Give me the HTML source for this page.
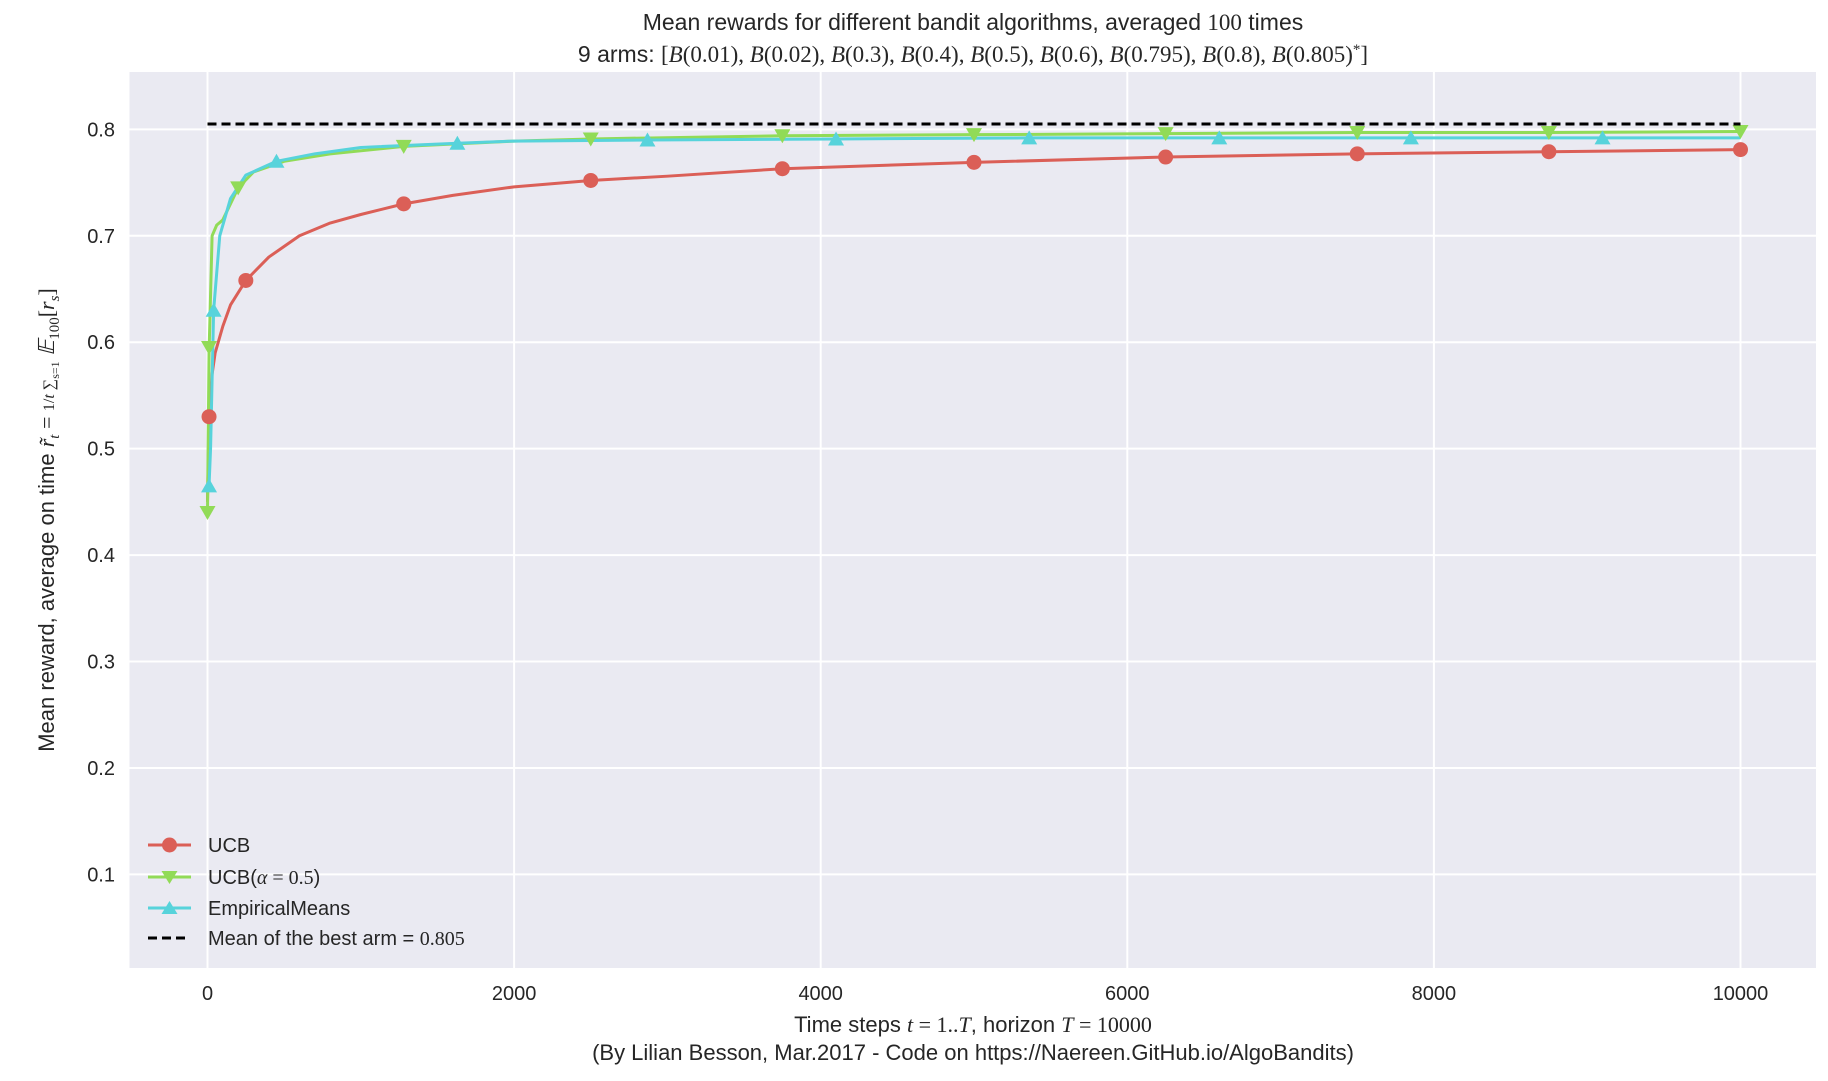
<!DOCTYPE html>
<html><head><meta charset="utf-8"><style>
body{margin:0;background:#fff}
svg text{font-family:"Liberation Sans","DejaVu Sans",sans-serif;fill:#262626}
.m{font-family:"Liberation Serif",serif;font-style:italic}
</style></head><body>
<svg id="chart" width="1828" height="1076" xmlns="http://www.w3.org/2000/svg">
<text x="973" y="30" font-size="23" text-anchor="middle">Mean rewards for different bandit algorithms, averaged <tspan font-family="Liberation Serif">100</tspan> times</text>
<text x="973" y="62" font-size="23" text-anchor="middle">9 arms: <tspan font-family="Liberation Serif">[<tspan font-style="italic">B</tspan>(0.01), <tspan font-style="italic">B</tspan>(0.02), <tspan font-style="italic">B</tspan>(0.3), <tspan font-style="italic">B</tspan>(0.4), <tspan font-style="italic">B</tspan>(0.5), <tspan font-style="italic">B</tspan>(0.6), <tspan font-style="italic">B</tspan>(0.795), <tspan font-style="italic">B</tspan>(0.8), <tspan font-style="italic">B</tspan>(0.805)<tspan dy="-8" font-size="15">*</tspan><tspan dy="8">]</tspan></tspan></text>
<rect x="129.5" y="72" width="1686.5" height="896" fill="#eaeaf2"/>
<g id="grid"></g>
<g id="series"></g>
<g id="legend">
<line x1="148" y1="845" x2="191" y2="845" stroke="#db5f57" stroke-width="3"/><circle cx="169.5" cy="845" r="7.5" fill="#db5f57"/>
<text x="208" y="852" font-size="20">UCB</text>
<line x1="148" y1="877" x2="191" y2="877" stroke="#91db57" stroke-width="3"/><path d="M161.5,871 L177.5,871 L169.5,884 Z" fill="#91db57"/>
<text x="208" y="884" font-size="20">UCB(<tspan class="m">α</tspan><tspan font-family="Liberation Serif"> = 0.5</tspan>)</text>
<line x1="148" y1="908" x2="191" y2="908" stroke="#57d3db" stroke-width="3"/><path d="M161.5,914 L177.5,914 L169.5,901 Z" fill="#57d3db"/>
<text x="208" y="915" font-size="20">EmpiricalMeans</text>
<line x1="148" y1="938" x2="188" y2="938" stroke="#000" stroke-width="3" stroke-dasharray="9,5"/>
<text x="208" y="945" font-size="20">Mean of the best arm = <tspan font-family="Liberation Serif">0.805</tspan></text>
</g>
<g id="ticks"></g>
<text x="973" y="1032" font-size="22" text-anchor="middle">Time steps <tspan class="m">t</tspan><tspan font-family="Liberation Serif"> = 1..</tspan><tspan class="m">T</tspan>, horizon <tspan class="m">T</tspan><tspan font-family="Liberation Serif"> = 10000</tspan></text>
<text x="973" y="1060" font-size="22" text-anchor="middle">(By Lilian Besson, Mar.2017 - Code on https://Naereen.GitHub.io/AlgoBandits)</text>
<text transform="translate(54,520) rotate(-90)" font-size="22" text-anchor="middle">Mean reward, average on time <tspan class="m">r̃<tspan font-size="15" dy="5">t</tspan></tspan><tspan dy="-5" font-family="Liberation Serif"> = </tspan><tspan font-family="Liberation Serif" font-size="16">1/<tspan font-style="italic">t</tspan> ∑<tspan font-size="12" dy="5">s=1</tspan></tspan><tspan dy="-5" class="m"> 𝔼</tspan><tspan font-family="Liberation Serif" font-size="15" dy="5">100</tspan><tspan dy="-5" font-family="Liberation Serif">[<tspan font-style="italic">r</tspan><tspan font-size="15" dy="5" font-style="italic">s</tspan><tspan dy="-5">]</tspan></tspan></text>
</svg>
<script>
const xTicks=[0,2000,4000,6000,8000,10000];
const yTicks=[0.1,0.2,0.3,0.4,0.5,0.6,0.7,0.8];
const bestMean=0.805;
const ucbT=[0,10,30,50,100,150,250,400,600,800,1000,1280,1600,2000,2500,3000,3750,5000,6250,7500,8750,10000];
const ucbV=[0.45,0.53,0.57,0.59,0.615,0.635,0.658,0.68,0.70,0.712,0.72,0.73,0.738,0.746,0.752,0.756,0.763,0.769,0.774,0.777,0.779,0.781];
const ucbMarkT=[10,250,1280,2500,3750,5000,6250,7500,8750,10000];
const ucbMarkV=[0.53,0.658,0.73,0.752,0.763,0.769,0.774,0.777,0.779,0.781];
const ucbaT=[0,10,30,60,100,200,300,500,800,1280,2000,2500,3750,5000,6250,7500,8750,10000];
const ucbaV=[0.44,0.59,0.70,0.71,0.715,0.745,0.76,0.77,0.777,0.784,0.789,0.791,0.794,0.795,0.796,0.797,0.797,0.798];
const ucbaMarkT=[0,10,200,1280,2500,3750,5000,6250,7500,8750,10000];
const ucbaMarkV=[0.44,0.595,0.745,0.784,0.791,0.794,0.795,0.796,0.797,0.797,0.798];
const empT=[0,10,20,40,80,150,250,450,700,1000,1630,2000,2870,4100,5360,6600,7850,9100,10000];
const empV=[0.46,0.465,0.50,0.63,0.70,0.735,0.757,0.77,0.777,0.783,0.787,0.789,0.790,0.791,0.792,0.792,0.792,0.792,0.792];
const empMarkT=[10,40,450,1630,2870,4100,5360,6600,7850,9100];
const empMarkV=[0.465,0.63,0.77,0.787,0.790,0.791,0.792,0.792,0.792,0.792];

const NS="http://www.w3.org/2000/svg";
const X=t=>207.5+t*0.15330;
const Y=v=>980.8-v*1064.3;
function mk(tag,attrs,parent){const e=document.createElementNS(NS,tag);for(const k in attrs)e.setAttribute(k,attrs[k]);parent.appendChild(e);return e;}
const grid=document.getElementById('grid'),ticks=document.getElementById('ticks'),ser=document.getElementById('series');
xTicks.forEach(t=>{
  const l=mk('line',{x1:X(t),x2:X(t),y1:72,y2:968,stroke:'#fff','stroke-width':2},grid);
  
  
  const tx=mk('text',{x:X(t),y:1000,'font-size':20,'text-anchor':'middle'},ticks);
  tx.textContent=t;
  
  
});
yTicks.forEach(v=>{
  const l=mk('line',{x1:129.5,x2:1816,y1:Y(v),y2:Y(v),stroke:'#fff','stroke-width':2},grid);
  
  
  const tx=mk('text',{x:115,y:Y(v)+7,'font-size':20,'text-anchor':'end'},ticks);
  tx.textContent=v.toFixed(1);
  
  
});
function line(ts,vs,color,name){
  const p=mk('polyline',{points:ts.map((t,i)=>X(t)+','+Y(vs[i])).join(' '),fill:'none',stroke:color,'stroke-width':3,'stroke-linejoin':'round'},ser);
  
  
}
function markers(ts,vs,color,kind,name){
  ts.forEach((t,i)=>{
    const x=X(t),y=Y(vs[i]);let e;
    if(kind==='o')e=mk('circle',{cx:x,cy:y,r:7.5,fill:color},ser);
    else if(kind==='v')e=mk('path',{d:`M${x-8},${y-6.5} L${x+8},${y-6.5} L${x},${y+7.5} Z`,fill:color},ser);
    else e=mk('path',{d:`M${x-8},${y+6.5} L${x+8},${y+6.5} L${x},${y-7.5} Z`,fill:color},ser);
    
    
  });
}
line(ucbT,ucbV,'#db5f57','ucb-line');
line(ucbaT,ucbaV,'#91db57','ucb-alpha-line');
line(empT,empV,'#57d3db','empirical-means-line');
markers(ucbMarkT,ucbMarkV,'#db5f57','o','ucb-marker');
markers(ucbaMarkT,ucbaMarkV,'#91db57','v','ucb-alpha-marker');
markers(empMarkT,empMarkV,'#57d3db','^','empirical-means-marker');
const d=mk('line',{x1:X(0),x2:X(10000),y1:Y(bestMean),y2:Y(bestMean),stroke:'#000','stroke-width':3,'stroke-dasharray':'9,5'},ser);


</script>
</body></html>
